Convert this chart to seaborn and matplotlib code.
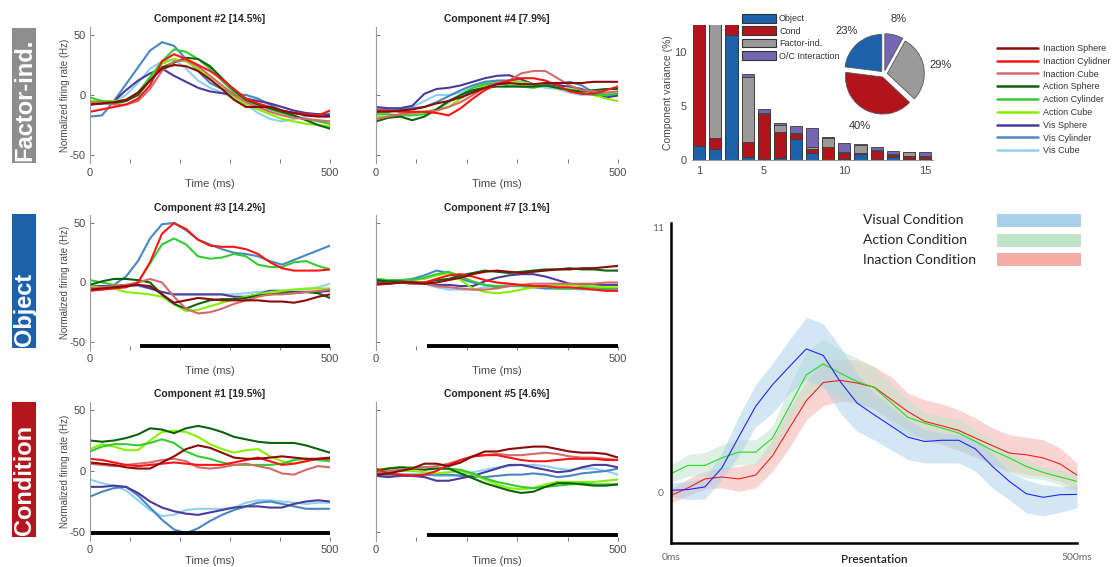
import numpy as np
import pandas as pd
import matplotlib
matplotlib.use("Agg")
import matplotlib.pyplot as plt
import seaborn as sns
from matplotlib.patches import Rectangle, Patch
from matplotlib.lines import Line2D

sns.set_style("white")
plt.rcParams["font.family"] = ["Liberation Sans", "DejaVu Sans"]
plt.rcParams["axes.unicode_minus"] = False

# ---------------------------------------------------------------- data
conditions = ["Inaction Sphere", "Inaction Cylidner", "Inaction Cube",
              "Action Sphere", "Action Cylinder", "Action Cube",
              "Vis Sphere", "Vis Cylinder", "Vis Cube"]
cond_colors = ["#8b0a0a", "#ff1414", "#d46a6a",
               "#0b640b", "#33cc33", "#86f000",
               "#4a3c98", "#4a86c0", "#8fd0f5"]

time_ms = [0, 25, 50, 75, 100, 125, 150, 175, 200, 225, 250,
           275, 300, 325, 350, 375, 400, 425, 450, 475, 500]

comp2 = {
    "Inaction Sphere":   [-8, -7, -6, -4, 2, 12, 22, 25, 24, 20, 13, 5, -4, -10, -10, -10, -13, -15, -17, -18, -18],
    "Inaction Cylidner": [-14, -12, -10, -8, -3, 8, 28, 34, 30, 25, 20, 13, 5, -3, -7, -10, -13, -15, -16, -17, -13],
    "Inaction Cube":     [-6, -6, -8, -8, -5, 5, 20, 28, 29, 24, 16, 8, 0, -6, -10, -14, -17, -19, -20, -21, -22],
    "Action Sphere":     [-7, -7, -7, -5, 0, 12, 23, 27, 31, 30, 24, 14, 4, -4, -8, -11, -14, -17, -21, -25, -28],
    "Action Cylinder":   [-2, -5, -6, -5, 2, 15, 28, 38, 36, 30, 22, 12, 2, -5, -8, -12, -15, -18, -20, -22, -24],
    "Action Cube":       [-5, -5, -5, -4, 0, 14, 26, 30, 28, 22, 14, 5, -2, -8, -12, -16, -20, -22, -24, -25, -26],
    "Vis Sphere":        [-8, -7, -5, 4, 12, 18, 22, 16, 11, 6, 3, 1.5, 0, -3, -5, -7, -10, -13, -15, -16, -17],
    "Vis Cylinder":      [-18, -17, -5, 9, 23, 37, 44, 41, 30, 20, 10, 5, 1, 0, -3, -8, -13, -15, -16, -16, -16],
    "Vis Cube":          [-5, -5, -5, 0, 10, 22, 28, 30, 22, 12, 6, 2, -3, -8, -15, -20, -22, -20, -18, -17, -15],
}
comp4 = {
    "Inaction Sphere":   [-14, -14, -13, -12, -10, -7, -5, -2, 2, 6, 9, 10, 9, 9, 10, 10, 10, 10, 11, 11, 11],
    "Inaction Cylidner": [-13, -13, -14, -14, -14, -15, -17, -11, -3, 4, 9, 12, 14, 14, 12, 8, 3, 1, 1, 4, 7],
    "Inaction Cube":     [-20, -18, -16, -15, -14, -13, -10, -6, 0, 6, 10, 12, 18, 20, 20, 14, 8, 4, 3, 2, 3],
    "Action Sphere":     [-22, -19, -18, -21, -18, -12, -5, 0, 4, 6, 7, 7, 7, 7, 8, 6, 4, 3, 4, 5, 5],
    "Action Cylinder":   [-16, -16, -17, -17, -16, -12, -6, 0, 6, 9, 10, 8, 7, 6, 8, 6, 4, 2, 0, 0, 1],
    "Action Cube":       [-18, -18, -16, -15, -14, -12, -10, -3, 3, 8, 10, 11, 11, 9, 8, 6, 5, 3, 0, -3, -5],
    "Vis Sphere":        [-10, -11, -11, -9, 1, 5, 6, 8, 11, 14, 16, 16.5, 13, 9, 8, 8, 7, 5, 1, -2, -0.5],
    "Vis Cylinder":      [-12, -12, -12, -11, -10, -6, -1, 4, 8, 11, 12, 12, 11, 9, 8, 9, 11, 8, 2, 0, 0],
    "Vis Cube":          [-14, -13, -12, -10, -5, 0, 0, 2, 6, 10, 12, 12, 10, 8, 6, 5, 2, 0, 0, 1, 2],
}
comp3 = {
    "Inaction Sphere":   [-6, -5, -4, -3, -2, -3, -10, -17, -15, -13, -14, -15, -15, -15, -15, -16, -16, -17, -15, -12, -10],
    "Inaction Cylidner": [-7, -6, -5, -4, 0, 17, 41, 50, 45, 36, 31, 30, 30, 28, 24, 17, 12, 10, 10, 10, 11],
    "Inaction Cube":     [-5, -4, -3, -2, 0, 3, 0, -12, -22, -26, -25, -22, -18, -15, -12, -10, -10, -9, -8, -7, -6],
    "Action Sphere":     [-2, 1, 3, 3, 2, 0, -10, -18, -22, -18, -15, -14, -14, -13, -11, -10, -9, -9, -8, -9, -13],
    "Action Cylinder":   [2, 0, -2, -4, 0, 16, 32, 37, 32, 22, 20, 21, 24, 22, 15, 13, 13, 17, 18, 14, 11],
    "Action Cube":       [-3, -4, -5, -8, -9, -10, -12, -18, -24, -23, -20, -17, -14, -12, -10, -8, -7, -6, -5, -5, -5],
    "Vis Sphere":        [-3, -3, -3, -2, -2, -5, -8, -10, -10, -10, -10, -10, -12, -12, -10, -7, -7, -8, -8, -8, -7],
    "Vis Cylinder":      [-5, -4, -2, 5, 18, 37, 49, 50, 44, 36, 32, 28, 25, 24, 22, 18, 15, 19, 23, 27, 31],
    "Vis Cube":          [-4, -3, -3, -3, -3, -5, -8, -10, -10, -10, -10, -10, -10, -9, -8, -7, -7, -6, -6, -4, -1],
}
comp7 = {
    "Inaction Sphere":   [-1, -1, 0, 0, -1, 0, 2, 4, 7, 9, 10, 9, 8, 9, 10, 11, 11, 12, 12, 13, 14],
    "Inaction Cylidner": [-2, -1, 0, 0, 0, 3, 6, 7, 5, 2, 0, -1, -2, -3, -3, -4, -4, -5, -6, -7, -7],
    "Inaction Cube":     [-1, -1, 0, -1, -1, -3, -4, -5, -6, -6, -5, -3, -2, -1, -1, -1, -1, -1, -1, 0, 0],
    "Action Sphere":     [2, 1, 1, 0, 0, 2, 3, 6, 8, 10, 9, 8, 9, 10, 11, 11, 12, 11, 11, 10, 10],
    "Action Cylinder":   [3, 2, 2, 2, 4, 7, 9, 5, 1, -2, -3, -3, -3, -3, -3, -5, -5, -4, -5, -6, -7],
    "Action Cube":       [3, 2, 2, 2, 3, 6, 8, 2, -5, -8, -9, -8, -6, -4, -3, -2, -2, -3, -3, -4, -4],
    "Vis Sphere":        [1, 0, 0, -1, -1, -2, -2, -3, -3, 1, 4, 6, 7, 7, 5, 2, -1, -2, -2, -2, -2],
    "Vis Cylinder":      [2, 2, 2, 3, 6, 10, 8, 3, 0, -2, -4, -3, -3, -4, -5, -5, -5, -5, -5, -5, -5],
    "Vis Cube":          [1, 1, 0, 0, -1, -4, -6, -6, -6, -4, -3, -2, -3, -4, -5, -5, -5, -6, -6, -6, -6],
}
comp1 = {
    "Inaction Sphere":   [7, 6, 5, 3, 2, 2, 7, 12, 18, 21, 19, 15, 11, 10, 10, 11, 12, 11, 10, 10, 11],
    "Inaction Cylidner": [10, 9, 7, 5, 4, 5, 6, 7, 6, 5, 5, 5, 7, 9, 11, 8, 5, 6, 8, 10, 10],
    "Inaction Cube":     [6, 5, 4, 5, 6, 7, 9, 10, 8, 3, 2, 3, 5, 6, 4, 2, -2, -3, 1, 4, 3],
    "Action Sphere":     [25, 24, 25, 27, 30, 35, 34, 31, 35, 37, 35, 32, 28, 26, 24, 23, 23, 23, 21, 18, 15],
    "Action Cylinder":   [16, 20, 22, 22, 21, 23, 26, 23, 16, 12, 10, 7, 5, 5, 5, 5, 6, 9, 10, 9, 8],
    "Action Cube":       [18, 22, 20, 17, 17, 25, 32, 33, 32, 28, 22, 18, 15, 17, 18, 12, 8, 6, 8, 10, 10],
    "Vis Sphere":        [-13, -13, -12, -13, -18, -25, -30, -33, -35, -36, -34, -32, -30, -29, -29, -30, -30, -27, -25, -24, -25],
    "Vis Cylinder":      [-21, -17, -14, -13, -20, -30, -40, -48, -51, -47, -41, -36, -32, -29, -26, -25, -27, -29, -31, -31, -31],
    "Vis Cube":          [-7, -10, -12, -16, -24, -32, -37, -36, -32, -31, -31, -31, -30, -26, -24, -24, -25, -26, -27, -26, -26],
}
comp5 = {
    "Inaction Sphere":   [-3, -2, 0, 2, 6, 6, 4, 7, 12, 16, 16, 18, 19, 20, 20, 18, 16, 15, 15, 14, 11],
    "Inaction Cylidner": [2, -2, -3, -4, -3, 0, 5, 9, 12, 13, 13, 11, 9, 8, 8, 9, 10, 10, 10, 9, 9],
    "Inaction Cube":     [-2, 0, 1, 2, 3, 4, 6, 9, 12, 13, 14, 13, 13, 14, 15, 14, 12, 11, 11, 10, 9],
    "Action Sphere":     [0, 2, 3, 2, 1, 2, 2, -2, -6, -10, -13, -16, -18, -17, -13, -10, -10, -11, -12, -12, -11],
    "Action Cylinder":   [1, 2, 3, 3, 3, 2, 2, 1, -2, -6, -9, -11, -13, -14, -13, -12, -11, -10, -11, -11, -11],
    "Action Cube":       [0, 0, 0, 0, -1, -2, -1, 0, -3, -7, -11, -14, -15, -14, -11, -9, -9, -9, -9, -8, -7],
    "Vis Sphere":        [-4, -5, -4, -4, -5, -8, -8, -6, -4, -1, 2, 5, 5, 3, 1, -1, 0, 3, 5, 5, 3],
    "Vis Cylinder":      [-3, -3, -3, -3, -3, -3, -3, -4, -5, -5, -4, -3, -3, -2, -3, -5, -4, -2, -1, 0, 2],
    "Vis Cube":          [-3, -3, -3, -3, -3, -4, -4, -3, -1, 1, 3, 4, 5, 5, 4, 2, 1, 2, 2, 0, -3],
}

panel_titles = ["Component #2 [14.5%]", "Component #4 [7.9%]",
                "Component #3 [14.2%]", "Component #7 [3.1%]",
                "Component #1 [19.5%]", "Component #5 [4.6%]"]
sig_start = [None, None, 104, 105, 0, 105]        # significance bar start (ms)
sig_level = [None, None, -53, -53, -51, -52.5]

row_labels = ["Factor-ind.", "Object", "Condition"]
row_colors = ["#8e8e8e", "#1c62ab", "#b3161d"]

# variance explained by component (stacked bars)
comp_index = [1, 2, 3, 4, 5, 6, 7, 8, 9, 10, 11, 12, 13, 14, 15]
var_object = [1.3, 1.0, 11.6, 0.25, 0.05, 0.15, 1.9, 0.62, 0.03, 0.05, 0.52, 0.05, 0.3, 0.05, 0.1]
var_cond = [18.2, 1.0, 2.6, 1.4, 4.21, 2.41, 0.5, 0.38, 1.2, 0.63, 0.16, 0.81, 0.2, 0.32, 0.2]
var_factor = [0.0, 12.5, 0.0, 6.0, 0.09, 0.68, 0.13, 0.23, 0.77, 0.07, 0.71, 0.09, 0.05, 0.37, 0.05]
var_oc = [0.0, 0.0, 0.0, 0.27, 0.35, 0.16, 0.62, 1.7, 0.1, 0.79, 0.09, 0.22, 0.31, 0.04, 0.39]
var_labels = ["Object", "Cond", "Factor-ind.", "O/C Interaction"]
var_colors = ["#1c62ab", "#b3141c", "#9a9a9a", "#7466b0"]
pie_pct = [23, 40, 29, 8]

# population response (bottom right)
pres_bins = list(range(25))
vis_mean = [0.11, 0.14, 0.25, 1.03, 2.31, 3.58, 4.48, 5.23, 5.96, 5.69, 4.61, 3.72, 3.24,
            2.78, 2.31, 2.13, 2.18, 2.18, 1.82, 1.10, 0.48, -0.03, -0.18, -0.07, -0.06]
vis_hi = [0.41, 0.48, 0.62, 1.65, 3.17, 4.48, 5.37, 6.34, 7.27, 7.00, 6.06, 4.96, 4.13,
          3.58, 3.03, 2.62, 2.48, 2.41, 2.20, 1.65, 0.85, 0.55, 0.34, 0.28, 0.28]
vis_lo = [-0.14, -0.28, -0.25, 0.55, 1.52, 2.73, 3.31, 4.13, 4.68, 4.41, 3.31, 2.55, 2.20,
          1.79, 1.38, 1.24, 1.24, 1.24, 0.90, 0.21, -0.28, -0.83, -0.94, -0.80, -0.62]
act_mean = [0.80, 1.14, 1.14, 1.45, 1.69, 1.69, 2.27, 3.58, 4.89, 5.34, 4.96, 4.61, 4.37,
            3.75, 3.13, 2.89, 2.69, 2.48, 2.13, 1.76, 1.45, 1.10, 0.85, 0.66, 0.48]
act_hi = [1.17, 1.58, 1.68, 2.00, 2.20, 2.20, 2.75, 4.41, 5.85, 6.36, 5.92, 5.58, 5.23,
          4.55, 3.86, 3.31, 3.17, 3.06, 2.62, 2.20, 1.65, 1.38, 1.10, 0.96, 0.90]
act_lo = [0.44, 0.69, 0.69, 0.96, 1.17, 1.17, 1.72, 2.89, 3.99, 4.34, 3.99, 3.72, 3.44,
          2.89, 2.41, 2.27, 2.07, 1.86, 1.58, 1.17, 0.83, 0.62, 0.55, 0.34, 0.03]
ina_mean = [-0.10, 0.21, 0.58, 0.66, 0.58, 0.74, 1.54, 2.69, 3.82, 4.57, 4.66, 4.55, 4.38,
            3.88, 3.37, 2.96, 2.78, 2.59, 2.27, 1.96, 1.65, 1.58, 1.45, 1.20, 0.74]
ina_hi = [0.14, 0.58, 0.90, 1.03, 1.10, 1.24, 2.20, 3.51, 4.61, 5.51, 5.54, 5.51, 5.23,
          4.82, 4.13, 3.86, 3.69, 3.44, 3.10, 2.69, 2.41, 2.31, 2.20, 1.86, 1.24]
ina_lo = [-0.41, -0.11, 0.17, 0.21, 0.07, 0.21, 0.90, 1.86, 3.03, 3.61, 3.79, 3.72, 3.51,
          3.03, 2.62, 2.20, 2.00, 1.76, 1.49, 1.17, 0.90, 0.76, 0.69, 0.48, 0.14]
pop_labels = ["Visual Condition", "Action Condition", "Inaction Condition"]
pop_line_colors = ["#2424ff", "#22dd22", "#ee2020"]
pop_band_colors = ["#a9cfe9", "#bfe3cb", "#f3aca6"]

# ---------------------------------------------------------------- figure
W, H = 1114, 567
fig = plt.figure(figsize=(W / 100, H / 100), dpi=100)


def axes_px(x0, y0, x1, y1):
    return fig.add_axes([x0 / W, 1 - y1 / H, (x1 - x0) / W, (y1 - y0) / H])


palette = dict(zip(conditions, cond_colors))
draw_order = conditions[::-1]
comps = [comp2, comp4, comp3, comp7, comp1, comp5]
col_x = [(90, 330), (376, 618)]
row_y = [(26.6, 163.4), (214.7, 350.3), (401.5, 540.5)]
gray_txt = "#4a4a4a"

for i, comp in enumerate(comps):
    r, c = divmod(i, 2)
    ax = axes_px(col_x[c][0], row_y[r][0], col_x[c][1], row_y[r][1])
    rows = []
    for name in draw_order:
        for t, v in zip(time_ms, comp[name]):
            rows.append((t, v, name))
    df = pd.DataFrame(rows, columns=["time", "rate", "cond"])
    sns.lineplot(data=df, x="time", y="rate", hue="cond", hue_order=draw_order,
                 palette=palette, legend=False, linewidth=1.5, ax=ax,
                 errorbar=None, sort=False)
    if sig_start[i] is not None:
        ax.hlines(sig_level[i], sig_start[i], 500, color="black", lw=2.8)
    ax.set_xlim(0, 500)
    ax.set_ylim(-57, 57)
    ax.set_xticks([0, 83.3, 187.5, 291.7, 395.8, 500])
    ax.set_xticklabels(["0", "", "", "", "", "500"])
    ax.set_yticks([-50, 0, 50])
    for s in ["top", "right", "bottom"]:
        ax.spines[s].set_visible(False)
    ax.spines["left"].set_color("#9a9a9a")
    ax.spines["left"].set_linewidth(0.8)
    ax.tick_params(direction="in", length=3, width=0.7, colors="#777777",
                   labelsize=8, labelcolor=gray_txt, pad=3)
    ax.tick_params(axis="x", bottom=True)
    ax.tick_params(axis="y", left=True)
    if c == 0:
        ax.set_ylabel("Normalized firing rate (Hz)", fontsize=7, color=gray_txt, labelpad=0)
    else:
        ax.set_yticklabels([])
        ax.set_ylabel("")
    ax.set_xlabel("Time (ms)", fontsize=8, color=gray_txt, labelpad=1)
    ax.set_title(panel_titles[i], fontsize=7.5, fontweight="bold", pad=3)
    ax.grid(False)

# row label boxes
box_y = [(28, 163), (214, 348), (402, 537)]
for lab, col, (y0, y1) in zip(row_labels, row_colors, box_y):
    fig.add_artist(Rectangle((12 / W, 1 - y1 / H), 24 / W, (y1 - y0) / H,
                             transform=fig.transFigure, facecolor=col, edgecolor="none"))
    fig.text(24.5 / W, 1 - (y1 - 2) / H, lab, rotation=90, ha="center", va="bottom",
             color="white", fontsize=17, fontweight="bold")

# legend of conditions
handles = [Line2D([], [], color=cc, lw=1.8) for cc in cond_colors]
fig.legend(handles, conditions, loc="upper left", bbox_to_anchor=(997 / W, 1 - 44 / H),
           frameon=False, fontsize=6.5, handlelength=4.5, handletextpad=0.55,
           labelspacing=0.42, borderpad=0, borderaxespad=0, labelcolor="#333333")

# ---------------------------------------------------------------- stacked bars
ax_b = axes_px(692, 25, 933, 160)
cum_obj = np.array(var_object)
cum_cond = cum_obj + np.array(var_cond)
cum_fac = cum_cond + np.array(var_factor)
cum_oc = cum_fac + np.array(var_oc)
for vals, colr in zip([cum_oc, cum_fac, cum_cond, cum_obj], var_colors[::-1]):
    sns.barplot(x=comp_index, y=vals, color=colr, native_scale=True, width=0.75,
                saturation=1, edgecolor="#3a3a3a", linewidth=0.6, ax=ax_b, errorbar=None)
ax_b.set_xlim(0.55, 15.5)
ax_b.set_ylim(0, 12.5)
ax_b.set_xticks([1, 5, 10, 15])
ax_b.set_xticklabels(["1", "5", "10", "15"])
ax_b.set_yticks([0, 5, 10])
ax_b.set_yticklabels(["0", "5", "10"])
for s in ["top", "right", "left"]:
    ax_b.spines[s].set_visible(False)
ax_b.spines["bottom"].set_color("#9a9a9a")
ax_b.tick_params(direction="in", length=0, labelsize=8, labelcolor=gray_txt, pad=4)
ax_b.set_xlabel("")
ax_b.set_ylabel("Component variance (%)", fontsize=7.5, color=gray_txt, labelpad=1)
ax_b.grid(False)
leg_handles = [Patch(facecolor=cc, edgecolor="#333333", lw=0.8) for cc in var_colors]
ax_b.legend(leg_handles, var_labels, loc="upper left",
            bbox_to_anchor=((742 - 692) / 241, 1 + (25 - 14) / 135), frameon=False,
            fontsize=6.5, handlelength=3.8, handleheight=1.1, handletextpad=0.3,
            labelspacing=0.33, borderpad=0, borderaxespad=0, labelcolor="#333333")

# pie
ax_p = axes_px(834, 24, 934, 124)
ax_p.pie(pie_pct, colors=var_colors, startangle=90, counterclock=True,
         explode=[0.09] * 4, autopct="%1.0f%%", pctdistance=1.45,
         wedgeprops=dict(edgecolor="#555555", linewidth=0.6),
         textprops=dict(fontsize=8, color="#333333"))
ax_p.set_xlim(-1.35, 1.35)
ax_p.set_ylim(-1.35, 1.35)
ax_p.set_aspect("equal")
ax_p.axis("off")

# ---------------------------------------------------------------- population response
ax_r = axes_px(671, 223, 1077, 543)
means = [vis_mean, act_mean, ina_mean]
his = [vis_hi, act_hi, ina_hi]
los = [vis_lo, act_lo, ina_lo]
for k in [2, 1, 0]:
    ax_r.fill_between(pres_bins, los[k], his[k], color=pop_band_colors[k], alpha=0.5, lw=0)
for k in [2, 1, 0]:
    sns.lineplot(x=pres_bins, y=means[k], color=pop_line_colors[k], lw=0.8, ax=ax_r)
ax_r.set_xlim(0, 24)
ax_r.set_ylim(-2.07, 11.17)
ax_r.set_yticks([0, 11])
ax_r.set_yticklabels(["0", "11"], fontfamily="Lato")
ax_r.set_xticks([0, 24])
ax_r.set_xticklabels(["0ms", "500ms"], fontfamily="Lato")
for s in ["top", "right"]:
    ax_r.spines[s].set_visible(False)
for s in ["left", "bottom"]:
    ax_r.spines[s].set_color("black")
    ax_r.spines[s].set_linewidth(1.8)
ax_r.tick_params(length=0, labelsize=7.5, labelcolor="#666666")
ax_r.tick_params(axis="x", pad=7)
ax_r.tick_params(axis="y", pad=5)
ax_r.set_xlabel("Presentation", fontsize=8.5, fontfamily="Lato", fontweight="semibold",
                color="#222222")
ax_r.xaxis.set_label_coords(0.502, -0.033)
ax_r.grid(False)
row_cy = [220, 240, 259.5]
for lab, bc, cy in zip(pop_labels, pop_band_colors, row_cy):
    fig.text(863 / W, 1 - cy / H, lab, ha="left", va="center", fontsize=10,
             fontfamily="Lato", color="#222222")
    fig.add_artist(Rectangle((997 / W, 1 - (cy + 6.5) / H), 84 / W, 13 / H,
                             transform=fig.transFigure, facecolor=bc, edgecolor="none"))

fig.savefig("out.png", dpi=100)
